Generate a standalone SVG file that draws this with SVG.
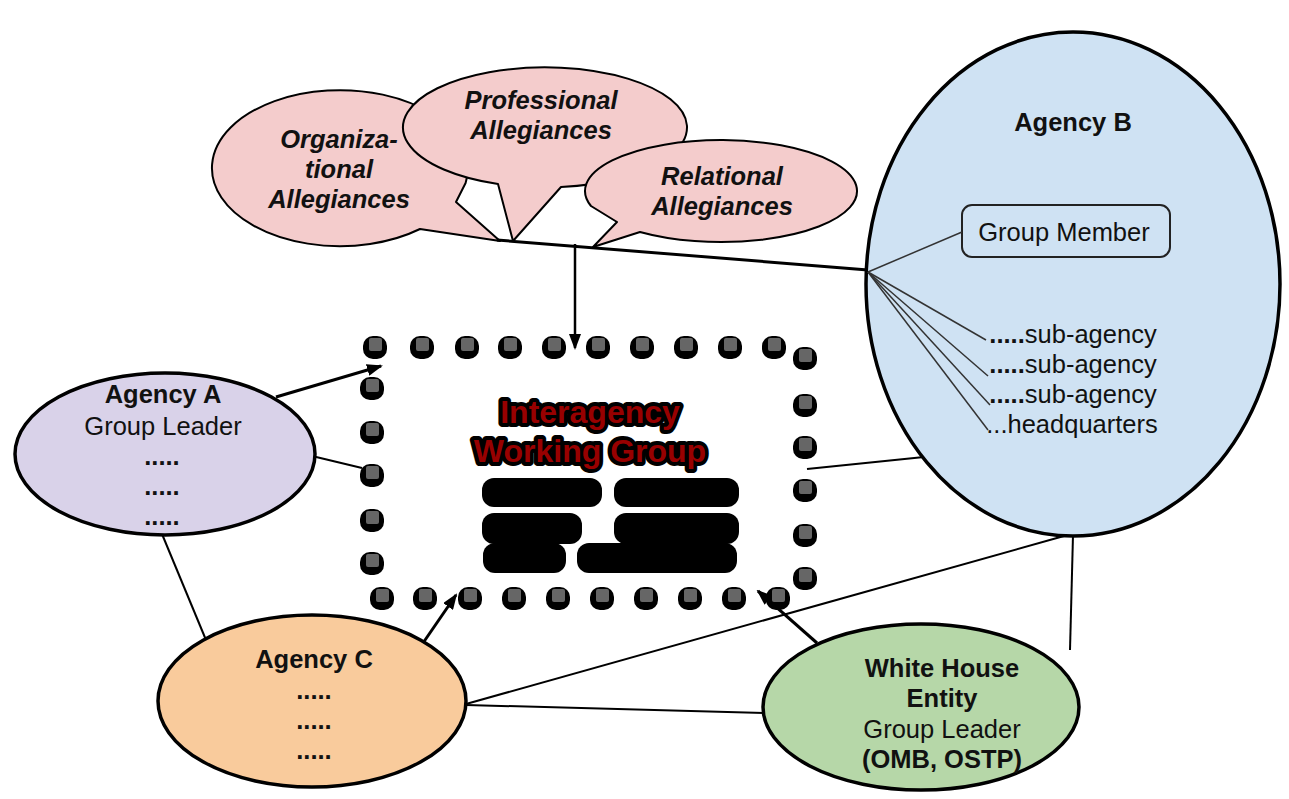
<svg xmlns="http://www.w3.org/2000/svg" xmlns:xlink="http://www.w3.org/1999/xlink" width="1289" height="799" viewBox="0 0 1289 799">
<defs>
<marker id="ah" markerWidth="16" markerHeight="12" refX="14" refY="6" orient="auto" markerUnits="userSpaceOnUse"><path d="M0,0 L16,6 L0,12 Z" fill="#000"/></marker>
<g id="dot"><rect x="-12" y="-11" width="24" height="23" rx="10" fill="#000"/><rect x="-6" y="-9" width="13" height="13" rx="2" fill="#666"/></g>
</defs>
<style>
text{font-family:"Liberation Sans",Arial,sans-serif;font-size:25.5px;fill:#111;text-anchor:middle}
.b{font-weight:bold}
.bi{font-weight:bold;font-style:italic}
.node{stroke:#000;stroke-width:3.5}
.bub{fill:#f4cccc;stroke:#000;stroke-width:2;stroke-linejoin:round}
.con{stroke:#000;stroke-width:2;fill:none}
.arr{stroke:#000;stroke-width:3;fill:none;marker-end:url(#ah)}
.fan{stroke:#333;stroke-width:1.5;fill:none}
.iwg{font-size:32px;font-weight:bold;fill:#980000;stroke:#000;stroke-width:8;stroke-linejoin:round;paint-order:stroke}
</style>
<rect width="1289" height="799" fill="#fff"/>

<g id="connectors">
<line class="con" x1="497" y1="240" x2="868" y2="270" style="stroke-width:3"/>
<line class="arr" x1="575" y1="244" x2="575" y2="348" style="stroke-width:2.5"/>
<line class="arr" x1="276" y1="397" x2="381" y2="366"/>
<line class="con" x1="312" y1="456" x2="362" y2="468"/>
<line class="arr" x1="423" y1="643" x2="456" y2="595"/>
<line class="arr" x1="817" y1="643" x2="758" y2="591"/>
<line class="con" x1="807" y1="469" x2="924" y2="457"/>
<line class="con" x1="466" y1="704" x2="1064" y2="536"/>
<line class="con" x1="466" y1="705" x2="765" y2="713"/>
<line class="con" x1="1073" y1="535" x2="1070" y2="650"/>
<line class="con" x1="162" y1="534" x2="206" y2="640"/>
</g>

<g id="bubble-organizational">
<path class="bub" d="M420,229 A128 78 0 1 1 465.6,183 L456,202 L500,241 Z"/>
<text class="bi" x="339" y="148">Organiza-</text>
<text class="bi" x="339" y="178">tional</text>
<text class="bi" x="339" y="208">Allegiances</text>
</g>
<g id="bubble-professional">
<path class="bub" d="M561,187 A142 60 0 1 0 498,184 L513,241 Z"/>
<text class="bi" x="541" y="109">Professional</text>
<text class="bi" x="541" y="139">Allegiances</text>
</g>
<g id="bubble-relational">
<path class="bub" d="M640,232 A136 51 0 1 0 591,206 L617,222 L593,247 Z"/>
<text class="bi" x="722" y="185">Relational</text>
<text class="bi" x="722" y="215">Allegiances</text>
</g>

<g id="working-group">
<use xlink:href="#dot" x="375" y="347"/><use xlink:href="#dot" x="422" y="347"/><use xlink:href="#dot" x="467" y="347"/><use xlink:href="#dot" x="510" y="347"/><use xlink:href="#dot" x="554" y="347"/><use xlink:href="#dot" x="598" y="347"/><use xlink:href="#dot" x="642" y="347"/><use xlink:href="#dot" x="686" y="347"/><use xlink:href="#dot" x="730" y="347"/><use xlink:href="#dot" x="774" y="347"/>
<use xlink:href="#dot" x="805" y="358"/><use xlink:href="#dot" x="805" y="405"/><use xlink:href="#dot" x="805" y="447"/><use xlink:href="#dot" x="805" y="490"/><use xlink:href="#dot" x="805" y="535"/><use xlink:href="#dot" x="805" y="578"/>
<use xlink:href="#dot" x="372" y="388"/><use xlink:href="#dot" x="372" y="432"/><use xlink:href="#dot" x="372" y="475"/><use xlink:href="#dot" x="372" y="520"/><use xlink:href="#dot" x="372" y="563"/>
<use xlink:href="#dot" x="382" y="598"/><use xlink:href="#dot" x="425" y="598"/><use xlink:href="#dot" x="470" y="598"/><use xlink:href="#dot" x="514" y="598"/><use xlink:href="#dot" x="558" y="598"/><use xlink:href="#dot" x="602" y="598"/><use xlink:href="#dot" x="646" y="598"/><use xlink:href="#dot" x="690" y="598"/><use xlink:href="#dot" x="734" y="598"/><use xlink:href="#dot" x="778" y="598"/>
<text class="iwg" x="590" y="423">Interagency</text>
<text class="iwg" x="590" y="462">Working Group</text>
<g fill="#000">
<rect x="482" y="478" width="120" height="29" rx="12"/>
<rect x="614" y="478" width="125" height="29" rx="12"/>
<rect x="482" y="513" width="100" height="31" rx="12"/>
<rect x="614" y="513" width="125" height="31" rx="12"/>
<rect x="483" y="543" width="83" height="30" rx="12"/>
<rect x="577" y="543" width="160" height="30" rx="12"/>
</g>
</g>

<g id="agency-b">
<ellipse class="node" cx="1073" cy="284" rx="207" ry="252" fill="#cfe2f3"/>
<text class="b" x="1073" y="131">Agency B</text>
<rect x="962" y="205" width="208" height="52" rx="10" fill="none" stroke="#222" stroke-width="2"/>
<text x="1064" y="241">Group Member</text>
<line class="fan" x1="868" y1="272" x2="962" y2="232"/>
<line class="fan" x1="868" y1="272" x2="986" y2="340"/>
<line class="fan" x1="868" y1="272" x2="988" y2="376"/>
<line class="fan" x1="868" y1="272" x2="990" y2="405"/>
<line class="fan" x1="868" y1="272" x2="988" y2="430"/>
<text x="1073" y="343"><tspan class="b">.....</tspan>sub-agency</text>
<text x="1073" y="373"><tspan class="b">.....</tspan>sub-agency</text>
<text x="1073" y="403"><tspan class="b">.....</tspan>sub-agency</text>
<text x="1072" y="433">...headquarters</text>
</g>

<g id="agency-a">
<ellipse class="node" cx="165" cy="454" rx="150" ry="81" fill="#d9d2e9"/>
<text class="b" x="163" y="403">Agency A</text>
<text x="163" y="435">Group Leader</text>
<text class="b" x="162" y="465">.....</text>
<text class="b" x="162" y="495">.....</text>
<text class="b" x="162" y="525">.....</text>
</g>

<g id="agency-c">
<ellipse class="node" cx="312" cy="701" rx="154" ry="86" fill="#f9cb9c"/>
<text class="b" x="314" y="668">Agency C</text>
<text class="b" x="314" y="699">.....</text>
<text class="b" x="314" y="729">.....</text>
<text class="b" x="314" y="759">.....</text>
</g>

<g id="white-house">
<ellipse class="node" cx="921" cy="707" rx="158" ry="83" fill="#b6d7a8"/>
<text class="b" x="942" y="677">White House</text>
<text class="b" x="942" y="707">Entity</text>
<text x="942" y="738">Group Leader</text>
<text class="b" x="942" y="768">(OMB, OSTP)</text>
</g>
</svg>
